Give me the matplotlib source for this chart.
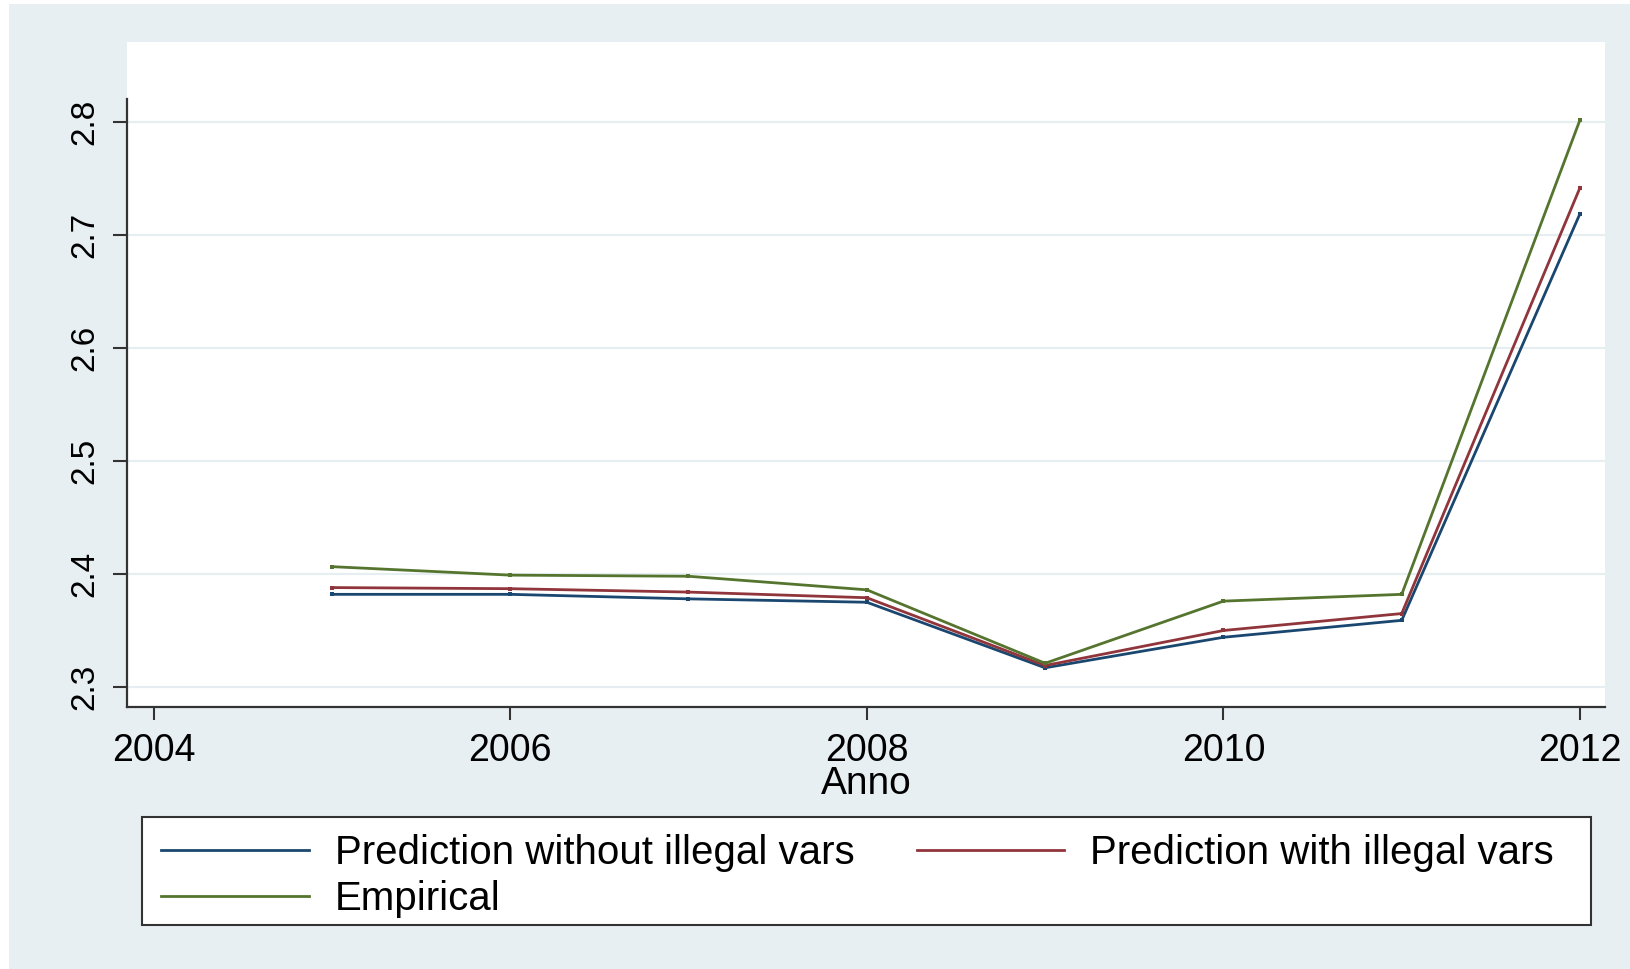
import matplotlib
matplotlib.use("Agg")
import matplotlib.pyplot as plt
from matplotlib.patches import Rectangle
from matplotlib.lines import Line2D

plt.rcParams['font.family'] = ['Liberation Sans', 'DejaVu Sans']

years = [2005, 2006, 2007, 2008, 2009, 2010, 2011, 2012]
pred_without = [2.382, 2.382, 2.378, 2.375, 2.317, 2.344, 2.359, 2.719]
pred_with = [2.388, 2.387, 2.384, 2.379, 2.319, 2.350, 2.365, 2.742]
empirical = [2.4065, 2.399, 2.398, 2.386, 2.321, 2.376, 2.382, 2.802]
x_ticks = [2004, 2006, 2008, 2010, 2012]
y_ticks = [2.3, 2.4, 2.5, 2.6, 2.7, 2.8]
labels = ["Prediction without illegal vars", "Prediction with illegal vars", "Empirical"]
x_label = "Anno"

W, H = 1630, 969
BG = '#e8eff2'
C_BLUE = '#1a476f'
C_RED = '#90353b'
C_GREEN = '#55752f'
AX_COL = '#333333'

fig = plt.figure(figsize=(W / 100, H / 100), dpi=100)
fig.patch.set_facecolor('white')
fig.add_artist(Rectangle((9 / W, 0), 1, 1 - 4 / H, transform=fig.transFigure,
                         facecolor=BG, edgecolor='none', zorder=-10))

ax = fig.add_axes([127 / W, 1 - 707 / H, (1605 - 127) / W, (707 - 42) / H])
ax.set_facecolor('white')

ax.set_xlim(2003.851, 2012.14)
ax.set_ylim(2.2823, 2.8708)

for yv in y_ticks:
    ax.axhline(yv, color='#e6eef1', lw=1.6, zorder=0)

series = [(pred_without, C_BLUE), (pred_with, C_RED), (empirical, C_GREEN)]
for vals, col in series:
    ax.plot(years, vals, color=col, lw=2.0, marker='s', markersize=2.3,
            markeredgewidth=0, zorder=3, solid_joinstyle='miter')

for s in ['top', 'right']:
    ax.spines[s].set_visible(False)
for s in ['left', 'bottom']:
    ax.spines[s].set_color(AX_COL)
    ax.spines[s].set_linewidth(1.6)
ax.spines['left'].set_bounds(2.2823, 2.8205)

ax.set_xticks(x_ticks)
ax.set_xticklabels([str(v) for v in x_ticks])
ax.set_yticks(y_ticks)
ax.set_yticklabels([f"{v:.1f}" for v in y_ticks], rotation=90, va='center')

ax.tick_params(axis='x', length=9.5, width=1.5, color=AX_COL, labelsize=27, pad=9,
               labelcolor='black')
ax.tick_params(axis='y', length=10, width=1.5, color=AX_COL, labelsize=24, pad=9,
               labelcolor='black')

ax.set_xlabel(x_label, fontsize=28, labelpad=-2, color='black')

# legend box
fig.add_artist(Rectangle((142 / W, 1 - 925 / H), (1591 - 142) / W, (925 - 817) / H,
                         transform=fig.transFigure, facecolor='white',
                         edgecolor=AX_COL, lw=1.5, zorder=1))

h_without = Line2D([], [], color=C_BLUE, lw=2.0)
h_with = Line2D([], [], color=C_RED, lw=2.0)
h_emp = Line2D([], [], color=C_GREEN, lw=2.0)
fig.legend([h_without, h_emp, h_with], [labels[0], labels[2], labels[1]],
           loc='upper left', bbox_to_anchor=(161 / W, 1 - 834 / H), ncol=2,
           frameon=False, borderpad=0, borderaxespad=0, handlelength=3.67,
           handletextpad=0.645, columnspacing=1.54, fontsize=29, labelspacing=0.2)

fig.savefig('out.png', dpi=100, facecolor=fig.get_facecolor())
